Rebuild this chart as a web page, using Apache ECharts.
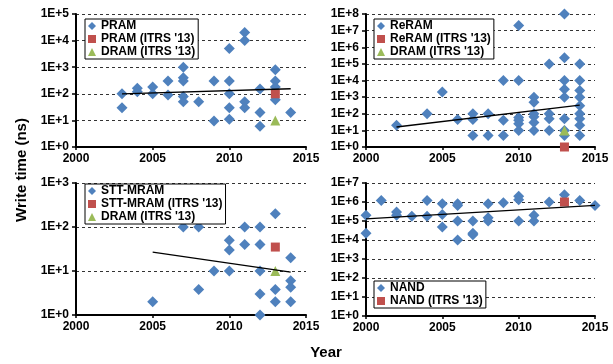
<!DOCTYPE html>
<html><head><meta charset="utf-8">
<script src="https://cdn.jsdelivr.net/npm/echarts@6/dist/echarts.min.js"></script>
<style>html,body{margin:0;padding:0;background:#fff}#c{width:613px;height:364px}</style>
</head><body><div id="c"></div>
<script>
// ---- data (year, write time in ns) ----
const xTickYears = [2000, 2005, 2010, 2015];

const pramX = [2003,2003,2004,2004,2005,2005,2006,2006,2007,2007,2007,2007,2007,2008,2009,2009,2010,2010,2010,2010,2010,2011,2011,2011,2011,2012,2012,2012,2013,2013,2013,2013,2014];
const pramY = [100,30,160,120,180,100,300,90,1000,400,300,80,50,50,300,9.5,5000,300,100,30,11,20000,10000,50,30,150,20,6,800,300,180,60,20];
const pramItrsX = [2013], pramItrsY = [100];
const pramDramX = [2013], pramDramY = [10];
const pramTrendX = [2003, 2014], pramTrendY = [100, 155];

const reramX = [2002,2004,2005,2006,2007,2007,2007,2008,2008,2009,2009,2009,2010,2010,2010,2010,2010,2010,2011,2011,2011,2011,2011,2011,2012,2012,2012,2012,2013,2013,2013,2013,2013,2013,2013,2013,2014,2014,2014,2014,2014,2014,2014,2014,2014];
const reramY = [20,100,2000,45,100,45,5,100,5,10000,40,5,2e7,10000,60,40,25,10,1000,500,100,65,30,10,1e5,100,50,10,1e8,2.3e5,10000,3000,1000,50,10,5,1e5,10000,2500,1000,300,100,50,20,5];
const reramItrsX = [2013], reramItrsY = [1];
const reramDramX = [2013], reramDramY = [10];
const reramTrendX = [2002, 2014], reramTrendY = [16, 330];

const sttX = [2005,2007,2008,2008,2009,2010,2010,2010,2011,2011,2012,2012,2012,2012,2012,2013,2013,2013,2014,2014,2014,2014];
const sttY = [2,100,100,3.8,10,50,30,10,100,40,100,40,10,3,1,200,3.8,2,20,6,4.3,2];
const sttItrsX = [2013], sttItrsY = [35];
const sttDramX = [2013], sttDramY = [10];
const sttTrendX = [2005, 2014], sttTrendY = [27, 9.4];

const nandX = [2000,2000,2001,2002,2002,2003,2004,2004,2005,2005,2005,2006,2006,2006,2006,2007,2007,2007,2008,2008,2008,2009,2010,2010,2010,2011,2011,2012,2013,2014,2015];
const nandY = [2e5,2.3e4,1.2e6,3e5,2e5,1.8e5,1.2e6,1.8e5,8e5,2.2e5,4.8e4,8e5,6.5e5,1e5,1e4,1e5,2.3e4,1.9e4,8e5,1.5e5,1e5,9e5,2e6,1.3e6,1e5,2e5,1e5,1e6,2.4e6,1.2e6,6.6e5];
const nandItrsX = [2013], nandItrsY = [1e6];
const nandTrendX = [2000, 2015], nandTrendY = [1.3e5, 6.6e5];

const yMaxPow = [5, 8, 3, 7];

// ---- build ----
const BLUE = '#4F81BD', RED = '#C0504D', GREEN = '#9BBB59';
const FONT = 'Liberation Sans, Arial, sans-serif';
const zip = (xs, ys) => xs.map((x, i) => [x, ys[i]]);

const grids = [
  {left: 76, top: 14, width: 230, height: 133},
  {left: 366, top: 14, width: 229, height: 133},
  {left: 76, top: 183, width: 230, height: 132},
  {left: 366, top: 183, width: 229, height: 133}
];

const xAxes = grids.map((g, i) => ({
  type: 'value', gridIndex: i, min: xTickYears[0], max: xTickYears[xTickYears.length - 1], interval: 5,
  axisLine: {lineStyle: {color: '#000', width: 2}},
  axisTick: {show: true, length: 3, lineStyle: {color: '#000', width: 1.5}},
  axisLabel: {color: '#000', fontWeight: 'bold', fontSize: 12, fontFamily: FONT, margin: 6,
    formatter: v => String(Math.round(v))},
  splitLine: {show: false}
}));

const yAxes = grids.map((g, i) => ({
  type: 'log', logBase: 10, gridIndex: i, min: 1, max: Math.pow(10, yMaxPow[i]), interval: 1,
  axisLine: {show: true, lineStyle: {color: '#000', width: 2}},
  axisTick: {show: true, length: 4, lineStyle: {color: '#000', width: 1.5}},
  axisLabel: {color: '#000', fontWeight: 'bold', fontSize: 12, fontFamily: FONT, margin: 7,
    formatter: v => '1E+' + Math.round(Math.log10(v))},
  splitLine: {show: true, lineStyle: {color: '#333', type: [3, 3], width: 1}}
}));

function sc(name, i, data, sym, size, color) {
  return {name, type: 'scatter', xAxisIndex: i, yAxisIndex: i, data, symbol: sym, symbolSize: size,
    itemStyle: {color, opacity: 1}, emphasis: {disabled: true}};
}
function tr(i, data) {
  return {name: 'trend' + i, type: 'line', xAxisIndex: i, yAxisIndex: i, data, symbol: 'none',
    lineStyle: {color: '#000', width: 1.3}, z: 5, silent: true};
}

const series = [
  sc('PRAM', 0, zip(pramX, pramY), 'diamond', 11, BLUE),
  sc("PRAM (ITRS '13)", 0, zip(pramItrsX, pramItrsY), 'rect', 9, RED),
  sc("DRAM (ITRS '13)", 0, zip(pramDramX, pramDramY), 'triangle', 10, GREEN),
  tr(0, zip(pramTrendX, pramTrendY)),
  sc('ReRAM', 1, zip(reramX, reramY), 'diamond', 11, BLUE),
  sc("ReRAM (ITRS '13)", 1, zip(reramItrsX, reramItrsY), 'rect', 9, RED),
  sc("DRAM (ITRS '13)", 1, zip(reramDramX, reramDramY), 'triangle', 10, GREEN),
  tr(1, zip(reramTrendX, reramTrendY)),
  sc('STT-MRAM', 2, zip(sttX, sttY), 'diamond', 11, BLUE),
  sc("STT-MRAM (ITRS '13)", 2, zip(sttItrsX, sttItrsY), 'rect', 9, RED),
  sc("DRAM (ITRS '13)", 2, zip(sttDramX, sttDramY), 'triangle', 10, GREEN),
  tr(2, zip(sttTrendX, sttTrendY)),
  sc('NAND', 3, zip(nandX, nandY), 'diamond', 11, BLUE),
  sc("NAND (ITRS '13)", 3, zip(nandItrsX, nandItrsY), 'rect', 9, RED),
  tr(3, zip(nandTrendX, nandTrendY))
];

function lg(left, top, names, icons) {
  return {
    left, top, orient: 'vertical', itemGap: 1, itemWidth: 8, itemHeight: 8, itemTextGap: 2,
    padding: [1, 3, 1, 3], borderColor: '#000', borderWidth: 1, backgroundColor: '#fff',
    selectedMode: false,
    data: names.map((n, k) => ({name: n, icon: icons[k]})),
    textStyle: {color: '#000', fontWeight: 'bold', fontSize: 12, fontFamily: FONT, lineHeight: 12}
  };
}

const option = {
  animation: false,
  grid: grids,
  xAxis: xAxes,
  yAxis: yAxes,
  legend: [
    lg(85, 19, ['PRAM', "PRAM (ITRS '13)", "DRAM (ITRS '13)"], ['diamond', 'rect', 'triangle']),
    lg(374, 19, ['ReRAM', "ReRAM (ITRS '13)", "DRAM (ITRS '13)"], ['diamond', 'rect', 'triangle']),
    lg(85, 184, ['STT-MRAM', "STT-MRAM (ITRS '13)", "DRAM (ITRS '13)"], ['diamond', 'rect', 'triangle']),
    lg(374, 281, ['NAND', "NAND (ITRS '13)"], ['diamond', 'rect'])
  ],
  series,
  graphic: [
    {type: 'text', x: 22, y: 170, rotation: Math.PI / 2,
      style: {text: 'Write time (ns)', fill: '#000', font: 'bold 15px ' + FONT, align: 'center', verticalAlign: 'middle'}},
    {type: 'text', x: 326, y: 353,
      style: {text: 'Year', fill: '#000', font: 'bold 15px ' + FONT, align: 'center', verticalAlign: 'middle'}}
  ]
};

const chart = echarts.init(document.getElementById('c'), null, {renderer: 'canvas'});
chart.setOption(option);
</script>
</body></html>
